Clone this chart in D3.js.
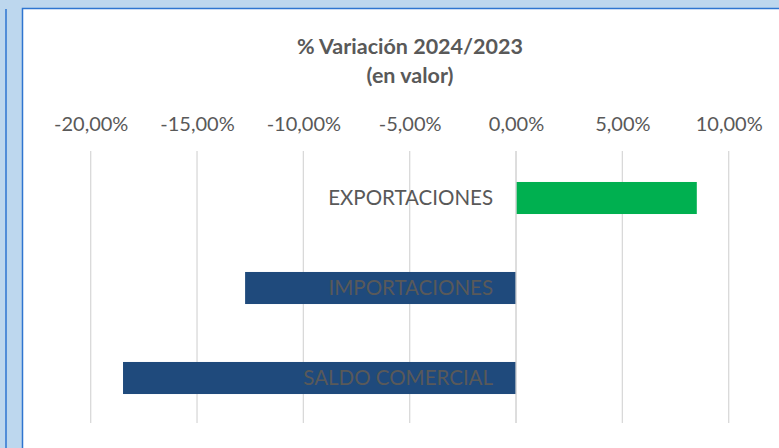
<!DOCTYPE html>
<html><head><meta charset="utf-8">
<script src="https://cdn.jsdelivr.net/npm/d3@7"></script>
<style>html,body{margin:0;padding:0;background:#bdd7ee;}svg{display:block;}</style>
</head><body>
<svg id="c" width="779" height="448"></svg>
<script>
const categories = ["EXPORTACIONES", "IMPORTACIONES", "SALDO COMERCIAL"];
const values = [0.085, -0.1274, -0.1848];
const barColors = ["#00b050", "#1f4a7c", "#1f4a7c"];
const tickValues = [-0.20, -0.15, -0.10, -0.05, 0, 0.05, 0.10];
const titleLines = ["% Variación 2024/2023", "(en valor)"];

const svg = d3.select("#c");
const W = 779, H = 448;
const font = "Lato, 'Open Sans', sans-serif";
const textColor = "#595959";

// frame
svg.append("rect").attr("x",0).attr("y",0).attr("width",W).attr("height",H).attr("fill","#bdd7ee");
svg.append("line").attr("x1",6).attr("x2",6).attr("y1",9).attr("y2",H).attr("stroke","#2e75d0").attr("stroke-width",1.5);
svg.append("rect").attr("x",22.5).attr("y",8.5).attr("width",W).attr("height",H).attr("fill","#fff").attr("stroke","#2e75d0").attr("stroke-width",1.5);

const x = d3.scaleLinear().domain([-0.20, 0.10]).range([90.7, 728.7]);
const y = d3.scaleBand().domain(categories).range([153, 423]).paddingInner(0.644).paddingOuter(0.322);

// gridlines
svg.append("g").selectAll("line").data(tickValues).join("line")
  .attr("x1", d=>x(d)).attr("x2", d=>x(d)).attr("y1", 151).attr("y2", 423)
  .attr("stroke", "#d9d9d9").attr("stroke-width", 1.3);

// axis labels on top
const fmt = d => (d < 0 ? "-" : "") + d3.format(".2f")(Math.abs(d)*100).replace(".", ",") + "%";
const axis = d3.axisTop(x).tickValues(tickValues).tickFormat(fmt).tickSize(0).tickPadding(0);
const ag = svg.append("g").attr("transform","translate(0,131)").call(axis);
ag.select(".domain").remove();
ag.selectAll("text").attr("font-family", font).attr("font-size", 20).attr("fill", textColor);

// bars
svg.append("g").selectAll("rect").data(categories).join("rect")
  .attr("x", (d,i)=>Math.min(x(0), x(values[i])))
  .attr("width", (d,i)=>Math.abs(x(values[i]) - x(0)))
  .attr("y", d=>y(d)).attr("height", y.bandwidth())
  .attr("fill", (d,i)=>barColors[i]);

// zero line
svg.append("line").attr("x1",x(0)).attr("x2",x(0)).attr("y1",151).attr("y2",423).attr("stroke","#d9d9d9").attr("stroke-width",1.3);

// category labels
svg.append("g").selectAll("text").data(categories).join("text")
  .attr("x", x(0) - 23).attr("y", d=>y(d)+y.bandwidth()/2).attr("dy","0.36em")
  .attr("text-anchor","end").attr("font-family", font).attr("font-size", 20.5).attr("fill", textColor)
  .text(d=>d);

// title
svg.append("g").selectAll("text").data(titleLines).join("text")
  .attr("x", 410).attr("y", (d,i)=>54 + i*29).attr("text-anchor","middle")
  .attr("font-family", font).attr("font-weight","bold").attr("font-size", 21.5).attr("fill", textColor)
  .text(d=>d);
</script>
</body></html>
